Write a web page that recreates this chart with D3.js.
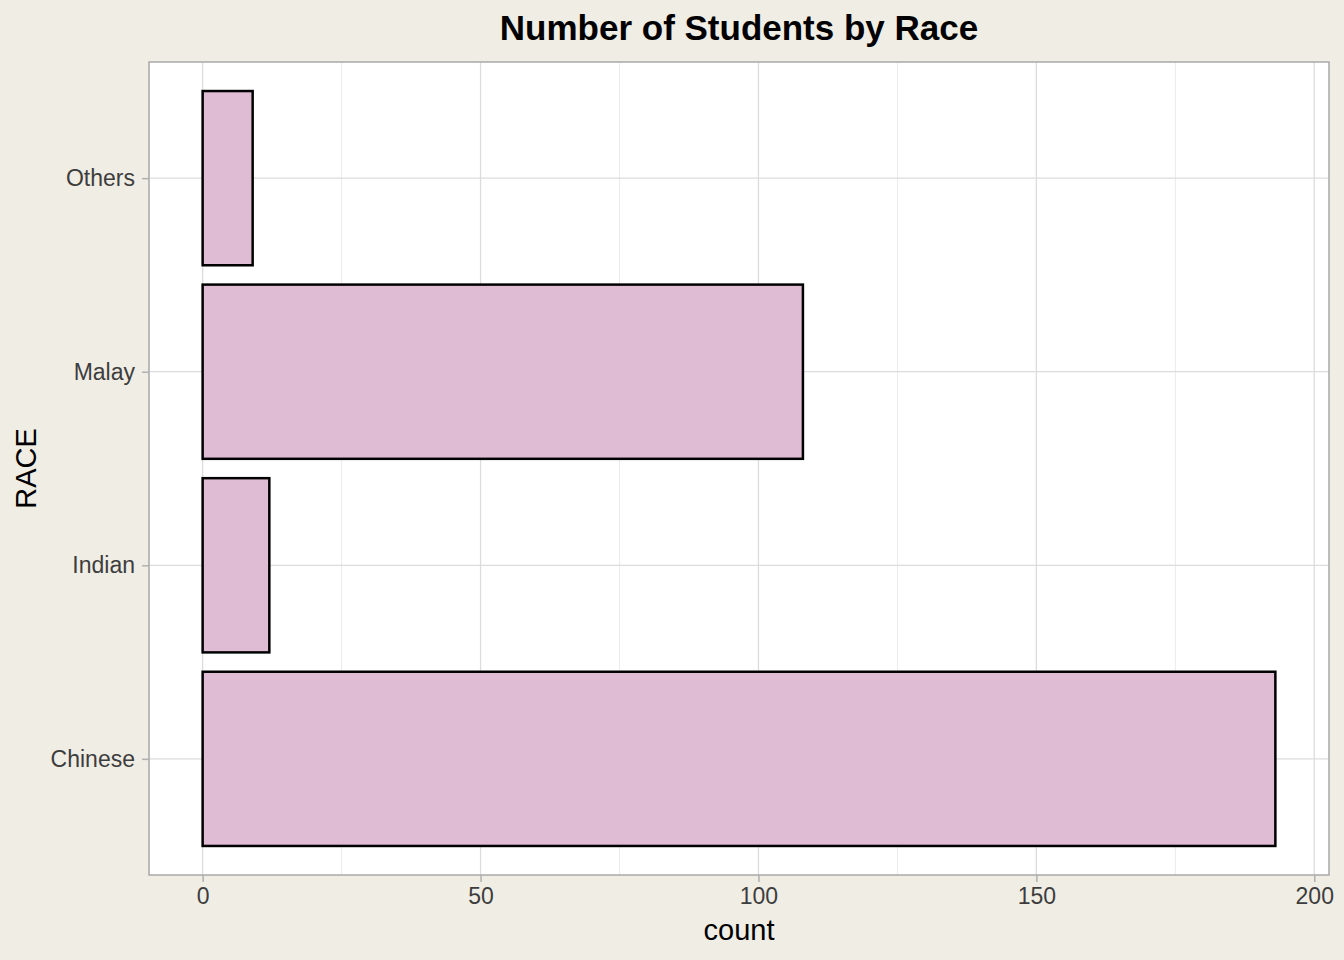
<!DOCTYPE html>
<html>
<head>
<meta charset="utf-8">
<script src="https://cdn.jsdelivr.net/npm/d3@7"></script>
<style>
  body { margin: 0; background: #F0EDE5; }
  svg { display: block; font-family: "Liberation Sans", Arial, sans-serif; }
</style>
</head>
<body>
<div id="chart"></div>
<script>
// data
const races = ["Chinese", "Indian", "Malay", "Others"];
const counts = [193, 12, 108, 9];
const xTicks = [0, 50, 100, 150, 200];
const xMinor = [25, 75, 125, 175];

const data = races.map((r, i) => ({ race: r, n: counts[i] }));

const outer_w = 1344, outer_h = 960;
const panel = { left: 149, right: 1329, top: 62, bottom: 875 };

const svg = d3.select("#chart").append("svg")
  .attr("width", outer_w)
  .attr("height", outer_h);

svg.append("rect").attr("width", outer_w).attr("height", outer_h).attr("fill", "#F0EDE5");

// ggplot-style expansion: 5% continuous, 0.6 discrete
const maxN = d3.max(counts);
const x = d3.scaleLinear()
  .domain([-maxN * 0.05, maxN * 1.05])
  .range([panel.left, panel.right]);

const yPos = d3.scaleLinear()
  .domain([0.4, races.length + 0.6])
  .range([panel.bottom, panel.top]);
const barH = yPos(1) - yPos(1.9);

// panel
svg.append("rect")
  .attr("x", panel.left).attr("y", panel.top)
  .attr("width", panel.right - panel.left).attr("height", panel.bottom - panel.top)
  .attr("fill", "white");

// grid
svg.append("g").selectAll("line").data(xMinor).enter().append("line")
  .attr("x1", d => x(d)).attr("x2", d => x(d))
  .attr("y1", panel.top).attr("y2", panel.bottom)
  .attr("stroke", "#ebebeb").attr("stroke-width", 1);
svg.append("g").selectAll("line").data(xTicks).enter().append("line")
  .attr("x1", d => x(d)).attr("x2", d => x(d))
  .attr("y1", panel.top).attr("y2", panel.bottom)
  .attr("stroke", "#dcdcdc").attr("stroke-width", 1.3);
svg.append("g").selectAll("line").data(races).enter().append("line")
  .attr("x1", panel.left).attr("x2", panel.right)
  .attr("y1", (d, i) => yPos(i + 1)).attr("y2", (d, i) => yPos(i + 1))
  .attr("stroke", "#dcdcdc").attr("stroke-width", 1.3);

// bars
svg.append("g").selectAll("rect").data(data).enter().append("rect")
  .attr("x", x(0))
  .attr("y", (d, i) => yPos(i + 1.45))
  .attr("width", d => x(d.n) - x(0))
  .attr("height", barH)
  .attr("fill", "#E0BBD4")
  .attr("stroke", "black")
  .attr("stroke-width", 2.5);

// panel border
svg.append("rect")
  .attr("x", panel.left).attr("y", panel.top)
  .attr("width", panel.right - panel.left).attr("height", panel.bottom - panel.top)
  .attr("fill", "none").attr("stroke", "#a8a8a8").attr("stroke-width", 1.5);

// x axis
const xAxis = svg.append("g")
  .attr("transform", "translate(0," + panel.bottom + ")")
  .call(d3.axisBottom(x).tickValues(xTicks).tickSize(7).tickPadding(6).tickSizeOuter(0));
xAxis.select(".domain").remove();
xAxis.selectAll("line").attr("stroke", "#b0b0b0").attr("stroke-width", 1.5);
xAxis.selectAll("text").attr("font-size", 23).attr("fill", "#3d3d3d")
  .attr("font-family", "Liberation Sans, Arial, sans-serif");

// y axis
const yAxis = svg.append("g")
  .attr("transform", "translate(" + panel.left + ",0)")
  .call(d3.axisLeft(yPos).tickValues([1, 2, 3, 4]).tickFormat(d => races[d - 1])
    .tickSize(7).tickPadding(7).tickSizeOuter(0));
yAxis.select(".domain").remove();
yAxis.selectAll("line").attr("stroke", "#b0b0b0").attr("stroke-width", 1.5);
yAxis.selectAll("text").attr("font-size", 23).attr("fill", "#3d3d3d")
  .attr("font-family", "Liberation Sans, Arial, sans-serif");

// titles
svg.append("text")
  .attr("x", (panel.left + panel.right) / 2).attr("y", 40)
  .attr("text-anchor", "middle")
  .attr("font-size", 35).attr("font-weight", "bold")
  .text("Number of Students by Race");

svg.append("text")
  .attr("x", (panel.left + panel.right) / 2).attr("y", 940)
  .attr("text-anchor", "middle")
  .attr("font-size", 29)
  .text("count");

svg.append("text")
  .attr("transform", "translate(36," + (panel.top + panel.bottom) / 2 + ") rotate(-90)")
  .attr("text-anchor", "middle")
  .attr("font-size", 29)
  .text("RACE");
</script>
</body>
</html>
